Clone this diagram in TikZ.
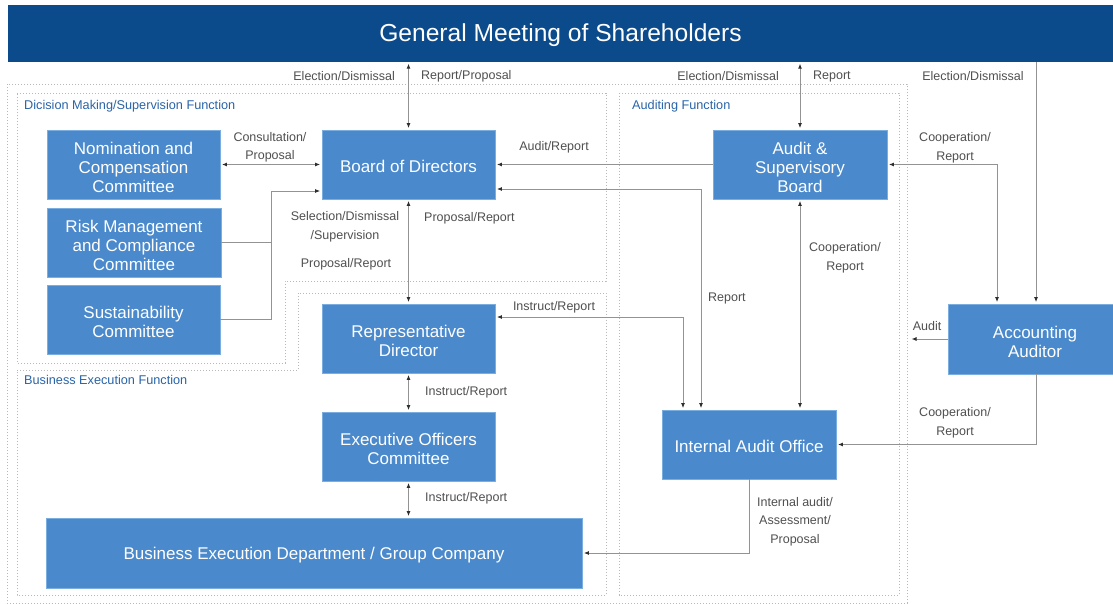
\documentclass[tikz,border=0pt]{standalone}
\usepackage{fontspec}
\setmainfont{Liberation Sans}
\usetikzlibrary{arrows.meta}
\definecolor{boxblue}{HTML}{4A89CC}
\definecolor{boxedge}{HTML}{7AAEE0}
\definecolor{titleblue}{HTML}{0B4A8B}
\definecolor{labgray}{HTML}{505050}
\definecolor{funcblue}{HTML}{2A64A8}
\definecolor{linegray}{HTML}{939393}
\definecolor{tipgray}{HTML}{2E2E2E}
\definecolor{dotgray}{HTML}{B8B8B8}
\tikzset{
  orgbox/.style={draw=boxedge, line width=0.8pt, fill=boxblue, inner sep=0pt},
  boxtext/.style={text=white, align=center, inner sep=0pt, font=\fontsize{17}{19}\selectfont},
  lab/.style={text=labgray, align=center, inner sep=0pt, font=\fontsize{12.5}{18.5}\selectfont},
  funclab/.style={text=funcblue, anchor=west, inner sep=0pt, font=\fontsize{12.7}{14}\selectfont},
  conn/.style={draw=linegray, line width=0.9pt},
  one/.style={conn, -{Latex[length=5pt,width=4pt,color=tipgray]}, shorten >=1.5pt},
  two/.style={conn, {Latex[length=5pt,width=4pt,color=tipgray]}-{Latex[length=5pt,width=4pt,color=tipgray]}, shorten >=1.5pt, shorten <=1.5pt},
  dotbox/.style={draw=dotgray, line width=0.8pt, dash pattern=on 1.4pt off 1.6pt}
}
\begin{document}
\begin{tikzpicture}[x=1pt,y=-1pt]
\clip (0,0) rectangle (1113,604);
\fill[white] (0,0) rectangle (1113,604);

% dotted function areas
\draw[dotbox] (7,84) rectangle (907,603);
\draw[dotbox] (17,93) -- (606,93) -- (606,281) -- (285,281) -- (285,363) -- (17,363) -- cycle;
\draw[dotbox] (17,370) -- (298,370) -- (298,293) -- (606,293) -- (606,595) -- (17,595) -- cycle;
\draw[dotbox] (619,93) rectangle (899,595);

\node[funclab] (fdm) at (24,106.5) {Dicision Making/Supervision Function};
\node[funclab] (fau) at (632,106.5) {Auditing Function};
\node[funclab] (fbe) at (24,379.5) {Business Execution Function};

% title
\node[fill=titleblue, minimum width=1105pt, minimum height=57pt, inner sep=0pt] (gm) at (560.5,33.5) {};
\node[text=white, inner sep=0pt, font=\fontsize{24.6}{28}\selectfont] (gmt) at ([yshift=-2pt]gm.center) {General Meeting of Shareholders};

% boxes
\node[orgbox, minimum width=173pt, minimum height=69pt] (nom) at (133.5,164.5) {};
\node[orgbox, minimum width=174pt, minimum height=69pt] (risk) at (134,242.5) {};
\node[orgbox, minimum width=173pt, minimum height=69pt] (sus) at (133.5,319.5) {};
\node[orgbox, minimum width=173pt, minimum height=69pt] (bod) at (408.5,164.5) {};
\node[orgbox, minimum width=173pt, minimum height=69pt] (rep) at (408.5,338.5) {};
\node[orgbox, minimum width=173pt, minimum height=69pt] (exe) at (408.5,446.5) {};
\node[orgbox, minimum width=536pt, minimum height=70pt] (biz) at (314,553) {};
\node[orgbox, minimum width=174pt, minimum height=69pt] (asb) at (800,164.5) {};
\node[orgbox, minimum width=174pt, minimum height=70pt] (aa) at (1035,339) {};
\node[orgbox, minimum width=174pt, minimum height=69pt] (iao) at (749,444.5) {};

\node[boxtext] (tnom) at ([yshift=-2.5pt]nom.center) {Nomination and\\Compensation\\Committee};
\node[boxtext] (trisk) at ([yshift=-2.5pt]risk.center) {Risk Management\\and Compliance\\Committee};
\node[boxtext] (tsus) at ([yshift=-2.5pt]sus.center) {Sustainability\\Committee};
\node[boxtext] (tbod) at ([yshift=-2pt]bod.center) {Board of Directors};
\node[boxtext] (trep) at ([yshift=-2.5pt]rep.center) {Representative\\Director};
\node[boxtext] (texe) at ([yshift=-2.5pt]exe.center) {Executive Officers\\Committee};
\node[boxtext] (tbiz) at ([yshift=-2pt]biz.center) {Business Execution Department / Group Company};
\node[boxtext] (tasb) at ([yshift=-2.5pt]asb.center) {Audit \&\\Supervisory\\Board};
\node[boxtext] (taa) at ([yshift=-2.5pt]aa.center) {Accounting\\Auditor};
\node[boxtext] (tiao) at ([yshift=-2pt]iao.center) {Internal Audit Office};

% helper coordinates
\coordinate (jr) at (271,191);
\coordinate (c1) at (701,189);
\coordinate (c2) at (683,317);
\coordinate (c3) at (997,166);
\coordinate (c4) at (1036,0);
\coordinate (auditend) at (910,339);

% connectors
\draw[two] (gm.south -| bod.north) -- (bod.north);
\draw[two] (gm.south -| asb.north) -- (asb.north);
\draw[one] (c4 |- gm.south) -- (c4 |- aa.north);
\draw[two] (nom.east) -- (bod.west |- nom.east);
\draw[conn] (risk.east) -- (risk.east -| jr);
\draw[one] (sus.east) -| (jr) -- (jr -| bod.west);
\draw[two] (bod.south) -- (rep.north);
\draw[two] (rep.south) -- (exe.north);
\draw[two] (exe.south) -- (exe.south |- biz.north);
\draw[one] (asb.west) -- (asb.west -| bod.east);
\draw[two] (c1 -| bod.east) -| (c1 |- iao.north);
\draw[two] (c2 -| rep.east) -| (c2 |- iao.north);
\draw[two] (asb.south) -- (asb.south |- iao.north);
\draw[two] (asb.east) -| (c3 |- aa.north);
\draw[one] (aa.west) -- (auditend);
\draw[one] (c4 |- aa.south) |- (iao.east);
\draw[one] (iao.south) |- (biz.east);

% labels
\node[lab, anchor=east] (l1) at (395,76.5) {Election/Dismissal};
\node[lab, anchor=west] (l2) at (421,76.5) {Report/Proposal};
\node[lab, anchor=east] (l3) at (779,76.5) {Election/Dismissal};
\node[lab, anchor=west] (l4) at (813,76.5) {Report};
\node[lab] (l5) at (973,76.5) {Election/Dismissal};
\node[lab] (l6) at (270,147.5) {Consultation/\\Proposal};
\node[lab] (l7) at (554,147.5) {Audit/Report};
\node[lab] (l8) at (345,227) {Selection/Dismissal\\/Supervision};
\node[lab, anchor=west] (l9) at (424,218.5) {Proposal/Report};
\node[lab] (l10) at (346,264.5) {Proposal/Report};
\node[lab] (l11) at (554,307.5) {Instruct/Report};
\node[lab, anchor=west] (l12) at (708,298.5) {Report};
\node[lab] (l13) at (845,258) {Cooperation/\\Report};
\node[lab] (l14) at (955,148) {Cooperation/\\Report};
\node[lab] (l15) at (927,326.5) {Audit};
\node[lab] (l16) at (955,423) {Cooperation/\\Report};
\node[lab, anchor=west] (l17) at (425,392.5) {Instruct/Report};
\node[lab, anchor=west] (l18) at (425,498.5) {Instruct/Report};
\node[lab] (l19) at (795,521.5) {Internal audit/\\Assessment/\\Proposal};
\end{tikzpicture}
\end{document}
